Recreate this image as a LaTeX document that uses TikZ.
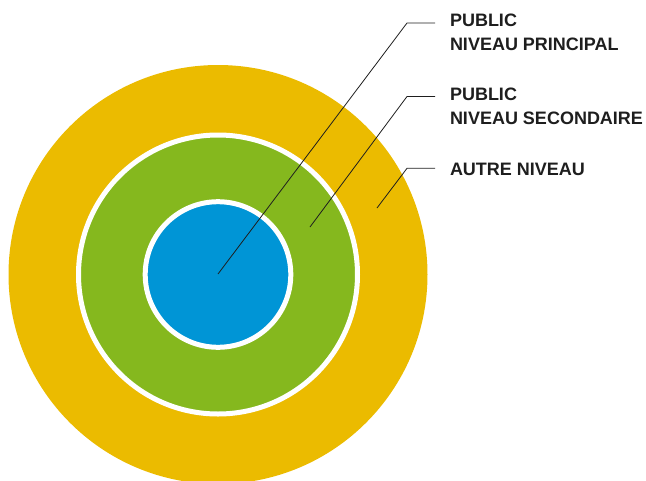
\documentclass[tikz,border=0pt]{standalone}
\usepackage{fontspec}
\setmainfont{Liberation Sans}
\definecolor{ringyellow}{RGB}{235,187,0}
\definecolor{ringgreen}{RGB}{133,184,30}
\definecolor{ringblue}{RGB}{0,149,214}
\definecolor{leadgray}{RGB}{30,30,30}
\tikzset{
  ring/.style={draw=white, line width=5pt},
  leader/.style={leadgray, line width=0.8pt},
  lbl/.style={anchor=north west, align=left, inner xsep=0pt, inner ysep=0pt,
    outer xsep=15pt, outer ysep=0pt, text=leadgray,
    font=\bfseries\fontsize{18}{24.3}\selectfont}
}
\begin{document}
\begin{tikzpicture}[x=1pt, y=-1pt]
  \useasboundingbox (0,0) rectangle (646,480);

  % Draw the three circles
  \fill[ringyellow] (218,274.5) circle (209.5pt);
  \filldraw[ring, fill=ringgreen] (218,274.5) circle (139.5pt);
  \filldraw[ring, fill=ringblue] (218,274.5) circle (72.8pt);

  % Points inside the circles and the elbows
  \coordinate (inblue) at (218,274);
  \coordinate (ingreen) at (310,227);
  \coordinate (inyellow) at (377,208);
  \coordinate (elbow1) at (407,23);
  \coordinate (elbow2) at (407,96.5);
  \coordinate (elbow3) at (407,168.3);

  % Draw the labels
  \node[lbl] (principal) at (435,13.5) {PUBLIC\\NIVEAU PRINCIPAL};
  \node[lbl] (secondaire) at (435,87.5) {PUBLIC\\NIVEAU SECONDAIRE};
  \node[lbl] (autre) at (435,163.5) {AUTRE NIVEAU};

  % Draw the leader lines
  \draw[leader] (inblue) -- (elbow1) -- (elbow1 -| principal.west);
  \draw[leader] (ingreen) -- (elbow2) -- (elbow2 -| secondaire.west);
  \draw[leader] (inyellow) -- (elbow3) -- (elbow3 -| autre.west);

\end{tikzpicture}
\end{document}
